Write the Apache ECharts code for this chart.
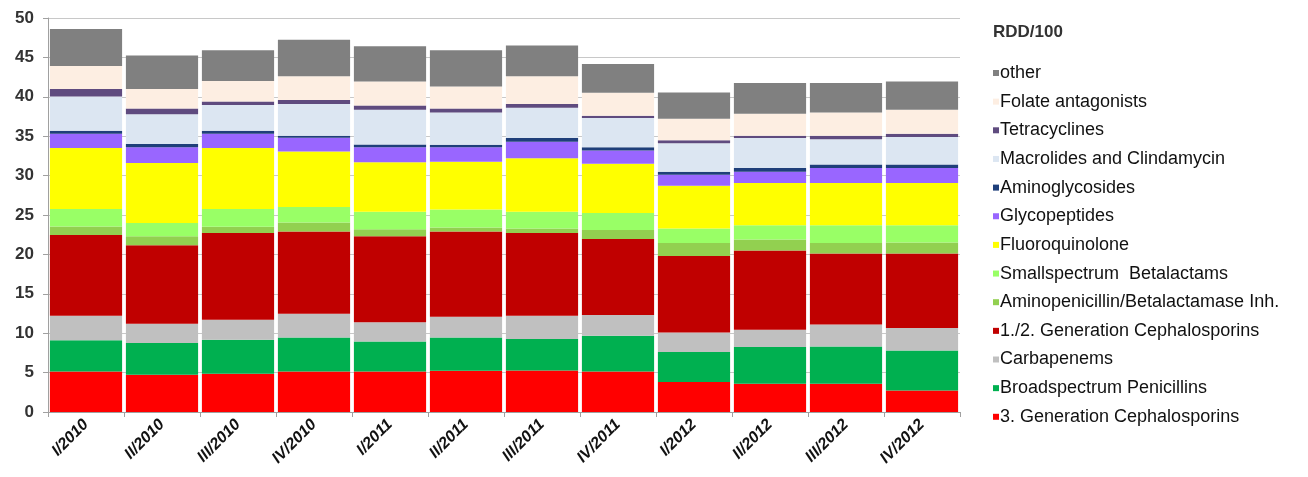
<!DOCTYPE html>
<html>
<head>
<meta charset="utf-8">
<script src="https://cdn.jsdelivr.net/npm/echarts@6/dist/echarts.min.js"></script>
<style>
html,body{margin:0;padding:0;background:#fff;}
#chart{width:1308px;height:477px;}
</style>
</head>
<body>
<div id="chart"></div>
<script>
const categories = ['I/2010','II/2010','III/2010','IV/2010','I/2011','II/2011','III/2011','IV/2011','I/2012','II/2012','III/2012','IV/2012'];
const yTicks = { min: 0, max: 50, interval: 5 };

const gen3Cephalosporins = [5.15, 4.73, 4.86, 5.15, 5.15, 5.24, 5.28, 5.15, 3.8, 3.6, 3.6, 2.74];
const broadspectrumPenicillins = [3.94, 4.02, 4.31, 4.32, 3.81, 4.23, 3.98, 4.53, 3.8, 4.65, 4.7, 5.06];
const carbapenems = [3.11, 2.45, 2.53, 3.0, 2.44, 2.63, 2.94, 2.62, 2.5, 2.19, 2.8, 2.86];
const gen12Cephalosporins = [10.25, 9.95, 11.0, 10.43, 10.9, 10.8, 10.5, 9.65, 9.7, 10.06, 9.0, 9.44];
const aminopenicillinBLI = [1.1, 1.15, 0.8, 1.16, 0.9, 0.5, 0.6, 1.15, 1.65, 1.4, 1.35, 1.4];
const smallspectrumBetalactams = [2.21, 1.7, 2.26, 1.94, 2.2, 2.3, 2.1, 2.15, 1.85, 1.8, 2.25, 2.2];
const fluoroquinolone = [7.74, 7.6, 7.74, 7.07, 6.3, 6.06, 6.8, 6.25, 5.4, 5.36, 5.36, 5.36];
const glycopeptides = [1.8, 2.0, 1.8, 1.73, 1.9, 1.84, 2.1, 1.7, 1.4, 1.44, 1.9, 1.9];
const aminoglycosides = [0.4, 0.4, 0.4, 0.26, 0.36, 0.3, 0.47, 0.4, 0.4, 0.46, 0.44, 0.44];
const macrolidesClindamycin = [4.35, 3.8, 3.26, 4.04, 4.4, 4.1, 3.83, 3.7, 3.6, 3.81, 3.2, 3.5];
const tetracyclines = [0.95, 0.7, 0.44, 0.5, 0.54, 0.5, 0.5, 0.3, 0.4, 0.29, 0.46, 0.4];
const folateAntagonists = [2.9, 2.5, 2.6, 3.0, 3.05, 2.8, 3.5, 2.9, 2.7, 2.79, 2.94, 3.06];
const other = [4.7, 4.25, 3.9, 4.65, 4.45, 4.6, 3.9, 3.66, 3.35, 3.9, 3.75, 3.59];

const seriesDefs = [
  ['3. Generation Cephalosporins', gen3Cephalosporins, '#FF0000'],
  ['Broadspectrum Penicillins', broadspectrumPenicillins, '#00B050'],
  ['Carbapenems', carbapenems, '#C0C0C0'],
  ['1./2. Generation Cephalosporins', gen12Cephalosporins, '#C00000'],
  ['Aminopenicillin/Betalactamase Inh.', aminopenicillinBLI, '#92D050'],
  ['Smallspectrum  Betalactams', smallspectrumBetalactams, '#99FF66'],
  ['Fluoroquinolone', fluoroquinolone, '#FFFF00'],
  ['Glycopeptides', glycopeptides, '#9966FF'],
  ['Aminoglycosides', aminoglycosides, '#1F3F7A'],
  ['Macrolides and Clindamycin', macrolidesClindamycin, '#DCE6F2'],
  ['Tetracyclines', tetracyclines, '#5F4B7F'],
  ['Folate antagonists', folateAntagonists, '#FDEEE2'],
  ['other', other, '#808080']
];

const chart = echarts.init(document.getElementById('chart'));
chart.setOption({
  animation: false,
  title: {
    text: 'RDD/100', left: 988, top: 19,
    textStyle: { fontFamily: 'Liberation Sans, Arial', fontSize: 17, fontWeight: 'bold', color: '#333' }
  },
  legend: {
    orient: 'vertical', left: 988, top: 58,
    data: seriesDefs.map(s => s[0]).reverse(),
    icon: 'rect', itemWidth: 6, itemHeight: 6, itemGap: 8.65,
    textStyle: { fontFamily: 'Liberation Sans, Arial', fontSize: 18, color: '#111', lineHeight: 20, padding: [0, 0, 0, -4] }
  },
  grid: { left: 48, right: 348, top: 18, bottom: 65, containLabel: false },
  xAxis: {
    type: 'category', data: categories,
    axisLine: { lineStyle: { color: '#A0A0A0' } },
    axisTick: { show: true, length: 5, lineStyle: { color: '#A0A0A0' } },
    axisLabel: {
      rotate: 45, margin: 10, interval: 0,
      fontFamily: 'Liberation Sans, Arial', fontSize: 16, fontWeight: 'bold', fontStyle: 'italic', color: '#111'
    }
  },
  yAxis: {
    type: 'value', min: yTicks.min, max: yTicks.max, interval: yTicks.interval,
    axisLine: { show: true, lineStyle: { color: '#A0A0A0' } },
    axisTick: { show: true, length: 5, lineStyle: { color: '#A0A0A0' } },
    axisLabel: { fontFamily: 'Liberation Sans, Arial', fontSize: 17, fontWeight: 'bold', color: '#333', margin: 14 },
    splitLine: { lineStyle: { color: '#C8C8C8' } }
  },
  series: seriesDefs.map(([name, data, color]) => ({
    name, type: 'bar', stack: 'total', data,
    barCategoryGap: '5%',
    itemStyle: { color },
    emphasis: { disabled: true }
  }))
});
</script>
</body>
</html>
